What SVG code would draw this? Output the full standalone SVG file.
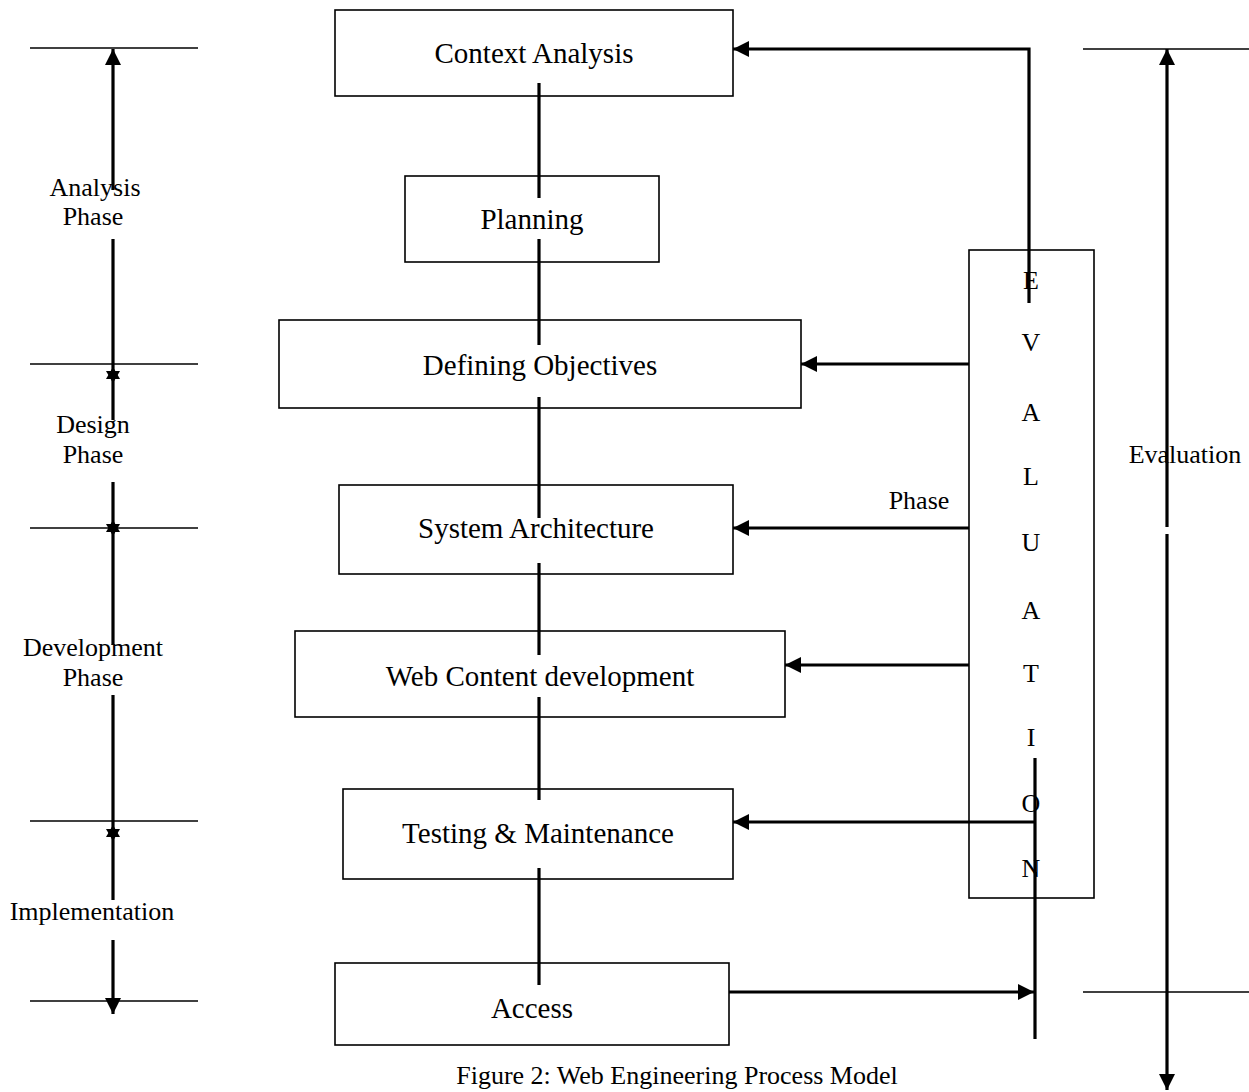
<svg xmlns="http://www.w3.org/2000/svg" width="1249" height="1092" viewBox="0 0 1249 1092">
<style>
.box{fill:none;stroke:#000;stroke-width:1.6}
.lbl{font-family:"Liberation Serif","Times New Roman",serif;font-size:29px;fill:#000;text-anchor:middle}
.side{font-family:"Liberation Serif","Times New Roman",serif;font-size:26px;fill:#000;text-anchor:middle}
.thin{stroke:#000;stroke-width:1.6;fill:none}
.thick{stroke:#000;stroke-width:3.2;fill:none}
.mid{stroke:#000;stroke-width:2.8;fill:none}
.star{fill:#000}
</style>
<defs>
<marker id="ah" markerUnits="userSpaceOnUse" markerWidth="18" markerHeight="16" refX="16" refY="8" orient="auto">
<path d="M0,0 L16,8 L0,16 Z" fill="#000"/>
</marker>
</defs>
<rect width="1249" height="1092" fill="#fff"/>

<g id="scales">
<line class="thin" x1="30" y1="48" x2="198" y2="48"/>
<line class="thin" x1="30" y1="364" x2="198" y2="364"/>
<line class="thin" x1="30" y1="528" x2="198" y2="528"/>
<line class="thin" x1="30" y1="821" x2="198" y2="821"/>
<line class="thin" x1="30" y1="1001" x2="198" y2="1001"/>
<line class="thin" x1="1083" y1="49" x2="1249" y2="49"/>
<line class="thin" x1="1083" y1="992" x2="1249" y2="992"/>
</g>

<g id="connectors">
<line class="thick" x1="113" y1="190" x2="113" y2="49" marker-end="url(#ah)"/>
<line class="thick" x1="113" y1="239" x2="113" y2="420"/>
<line class="thick" x1="113" y1="482" x2="113" y2="645"/>
<line class="thick" x1="113" y1="695" x2="113" y2="900"/>
<line class="thick" x1="113" y1="940" x2="113" y2="1014" marker-end="url(#ah)"/>
<polygon class="star" points="113,367 120,379 106,379"/>
<polygon class="star" points="113,383 120,371 106,371"/>
<polygon class="star" points="113,520 120,532 106,532"/>
<polygon class="star" points="113,536 120,524 106,524"/>
<polygon class="star" points="113,825 120,837 106,837"/>
<polygon class="star" points="113,841 120,829 106,829"/>

<line class="thick" x1="1167" y1="527" x2="1167" y2="49" marker-end="url(#ah)"/>
<line class="thick" x1="1167" y1="534" x2="1167" y2="1090" marker-end="url(#ah)"/>

<line class="thick" x1="539" y1="83" x2="539" y2="198"/>
<line class="thick" x1="539" y1="239" x2="539" y2="345"/>
<line class="thick" x1="539" y1="397" x2="539" y2="518"/>
<line class="thick" x1="539" y1="563" x2="539" y2="655"/>
<line class="thick" x1="539" y1="697" x2="539" y2="800"/>
<line class="thick" x1="539" y1="868" x2="539" y2="985"/>

<polyline class="thick" points="1029,303 1029,49 733,49" marker-end="url(#ah)"/>
<line class="mid" x1="969" y1="364" x2="801" y2="364" marker-end="url(#ah)"/>
<line class="mid" x1="969" y1="528" x2="733" y2="528" marker-end="url(#ah)"/>
<line class="mid" x1="969" y1="665" x2="785" y2="665" marker-end="url(#ah)"/>
<line class="mid" x1="1035" y1="822" x2="733" y2="822" marker-end="url(#ah)"/>
<line class="thick" x1="1035" y1="758" x2="1035" y2="1039"/>
<line class="mid" x1="729" y1="992" x2="1034" y2="992" marker-end="url(#ah)"/>
</g>

<g id="n-context"><rect class="box" x="335" y="10" width="398" height="86"/><text class="lbl" x="534" y="63">Context Analysis</text></g>
<g id="n-planning"><rect class="box" x="405" y="176" width="254" height="86"/><text class="lbl" x="532" y="229">Planning</text></g>
<g id="n-objectives"><rect class="box" x="279" y="320" width="522" height="88"/><text class="lbl" x="540" y="375">Defining Objectives</text></g>
<g id="n-architecture"><rect class="box" x="339" y="485" width="394" height="89"/><text class="lbl" x="536" y="538">System Architecture</text></g>
<g id="n-webcontent"><rect class="box" x="295" y="631" width="490" height="86"/><text class="lbl" x="540" y="686">Web Content development</text></g>
<g id="n-testing"><rect class="box" x="343" y="789" width="390" height="90"/><text class="lbl" x="538" y="843">Testing &amp; Maintenance</text></g>
<g id="n-access"><rect class="box" x="335" y="963" width="394" height="82"/><text class="lbl" x="532" y="1018">Access</text></g>

<g id="n-evaluation">
<rect class="box" x="969" y="250" width="125" height="648"/>
<text class="side" x="1031" y="289">E</text>
<text class="side" x="1031" y="351">V</text>
<text class="side" x="1031" y="421">A</text>
<text class="side" x="1031" y="485">L</text>
<text class="side" x="1031" y="551">U</text>
<text class="side" x="1031" y="619">A</text>
<text class="side" x="1031" y="682">T</text>
<text class="side" x="1031" y="746">I</text>
<text class="side" x="1031" y="812">O</text>
<text class="side" x="1031" y="877">N</text>
</g>

<g id="labels">
<text class="side" x="95" y="196">Analysis</text>
<text class="side" x="93" y="225">Phase</text>
<text class="side" x="93" y="433">Design</text>
<text class="side" x="93" y="463">Phase</text>
<text class="side" x="93" y="656">Development</text>
<text class="side" x="93" y="686">Phase</text>
<text class="side" x="92" y="920">Implementation</text>
<text class="side" x="919" y="509">Phase</text>
<text class="side" x="1185" y="463">Evaluation</text>
<text class="side" x="677" y="1084">Figure 2: Web Engineering Process Model</text>
</g>
</svg>
